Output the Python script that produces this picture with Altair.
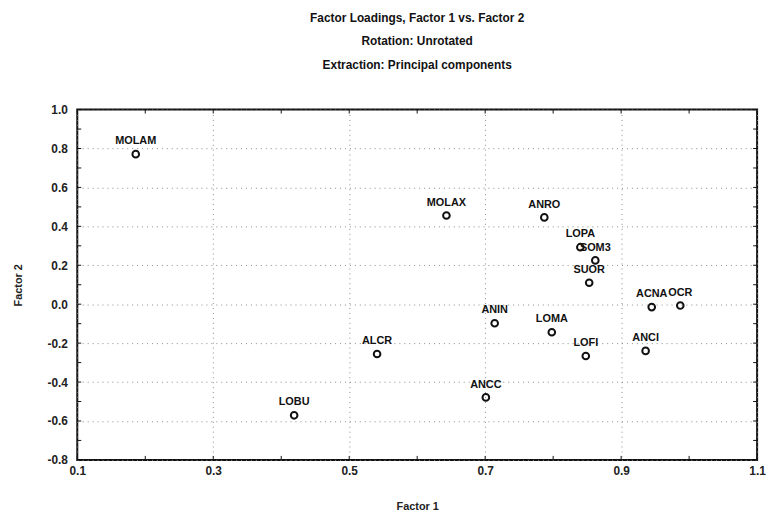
import altair as alt
import pandas as pd

labels = ["MOLAM", "MOLAX", "ANRO", "LOPA", "SOM3", "SUOR", "ACNA", "OCR",
          "ANIN", "LOMA", "LOFI", "ANCI", "ALCR", "ANCC", "LOBU"]
factor1 = [0.186, 0.643, 0.787, 0.840, 0.862, 0.853, 0.945, 0.987,
           0.714, 0.798, 0.848, 0.936, 0.541, 0.701, 0.419]
factor2 = [0.771, 0.456, 0.446, 0.293, 0.225, 0.110, -0.015, -0.007,
           -0.098, -0.144, -0.266, -0.240, -0.256, -0.479, -0.571]

x_ticks = [0.1, 0.3, 0.5, 0.7, 0.9, 1.1]
y_ticks = [-0.8, -0.6, -0.4, -0.2, 0.0, 0.2, 0.4, 0.6, 0.8, 1.0]
x_minor = [round(0.1 + 0.1 * i, 1) for i in range(11)]
y_minor = [round(-0.8 + 0.1 * i, 1) for i in range(19)]
x_min, x_max = 0.1, 1.1
y_min, y_max = -0.8, 1.0

df = pd.DataFrame({"label": labels, "f1": factor1, "f2": factor2})
dfx = pd.DataFrame({"v": x_minor})
dfy = pd.DataFrame({"v": y_minor})

FONT = "Liberation Sans"
LBL = "replace(format(datum.value, '.1f'), '\u2212', '-')"

xscale = alt.Scale(domain=[x_min, x_max], nice=False, zero=False)
yscale = alt.Scale(domain=[y_min, y_max], nice=False, zero=False)

xaxis = alt.Axis(values=x_ticks, labelExpr=LBL, title="Factor 1",
                 grid=True, gridColor="#8a8a8a", gridDash=[1, 4], gridWidth=1,
                 domain=False, ticks=False, labelFont=FONT, labelFontSize=12,
                 labelFontWeight="bold", labelColor="#222", labelPadding=6,
                 labelOverlap=False,
                 titleFont=FONT, titleFontSize=11, titleFontWeight="bold",
                 titleColor="#222", titlePadding=24, labelFlush=False)
yaxis = alt.Axis(values=y_ticks, labelExpr=LBL, title="Factor 2",
                 grid=True, gridColor="#8a8a8a", gridDash=[1, 4], gridWidth=1,
                 domain=False, ticks=False, labelFont=FONT, labelFontSize=12,
                 labelFontWeight="bold", labelColor="#222", labelPadding=10,
                 labelOverlap=False,
                 titleFont=FONT, titleFontSize=11, titleFontWeight="bold",
                 titleColor="#222", titlePadding=24, labelFlush=False)

points = alt.Chart(df).mark_point(shape="circle", filled=False, size=45,
                                  strokeWidth=2, color="#111", opacity=1).encode(
    x=alt.X("f1:Q", scale=xscale, axis=xaxis),
    y=alt.Y("f2:Q", scale=yscale, axis=yaxis),
)

text = alt.Chart(df).mark_text(dy=-13, font=FONT, fontSize=11, fontWeight="bold",
                               color="#111").encode(
    x=alt.X("f1:Q", scale=xscale, axis=xaxis),
    y=alt.Y("f2:Q", scale=yscale, axis=yaxis),
    text="label:N",
)

tb = alt.Chart(dfx).mark_rule(color="#111", y2Offset=-4).encode(
    x=alt.X("v:Q", scale=xscale, axis=xaxis),
    y=alt.YDatum(y_min, scale=yscale, axis=yaxis), y2=alt.Y2Datum(y_min))
tt = alt.Chart(dfx).mark_rule(color="#111", y2Offset=4).encode(
    x=alt.X("v:Q", scale=xscale, axis=xaxis),
    y=alt.YDatum(y_max, scale=yscale, axis=yaxis), y2=alt.Y2Datum(y_max))
tl = alt.Chart(dfy).mark_rule(color="#111", x2Offset=4).encode(
    y=alt.Y("v:Q", scale=yscale, axis=yaxis),
    x=alt.XDatum(x_min, scale=xscale, axis=xaxis), x2=alt.X2Datum(x_min))
tr = alt.Chart(dfy).mark_rule(color="#111", x2Offset=-4).encode(
    y=alt.Y("v:Q", scale=yscale, axis=yaxis),
    x=alt.XDatum(x_max, scale=xscale, axis=xaxis), x2=alt.X2Datum(x_max))

chart = alt.layer(points, text, tb, tt, tl, tr).properties(
    width=687, height=354,
    background="white",
    title=alt.TitleParams(
        text=["Factor Loadings, Factor 1 vs. Factor 2",
              "Rotation: Unrotated",
              "Extraction: Principal components"],
        font=FONT, fontSize=12, fontWeight="bold", color="#111",
        lineHeight=24, anchor="middle", offset=32),
    autosize=alt.AutoSizeParams(type="none"),
    padding={"left": 70, "top": 100, "right": 10, "bottom": 50},
).configure_view(stroke="#111", strokeWidth=2)

chart.save("out.html", embed_options={"renderer": "svg", "actions": False})
